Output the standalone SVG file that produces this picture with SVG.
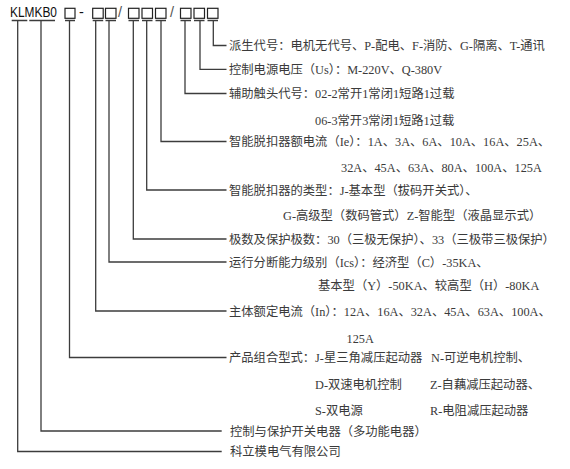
<svg xmlns="http://www.w3.org/2000/svg" width="570" height="469" viewBox="0 0 570 469">
<style>
.t{font-family:"Liberation Serif","Noto Sans CJK SC",serif;font-size:12.3px;fill:#3a3a3a}
.c{fill:none;stroke:#3c3c3c;stroke-width:1.3}
.b{fill:none;stroke:#222;stroke-width:1.2}
.h{font-family:"Liberation Sans",Arial,sans-serif;font-size:14.5px;fill:#111}
</style>
<rect width="570" height="469" fill="#fff"/>
<g id="code">
<text class="h" x="10" y="17.3" textLength="47" lengthAdjust="spacingAndGlyphs">KLMKB0</text>
<rect class="b" x="65" y="8.3" width="10" height="10"/>
<text class="h" x="79" y="17.3">-</text>
<rect class="b" x="92.7" y="8.3" width="10.5" height="10"/>
<rect class="b" x="105.5" y="8.3" width="10.5" height="10"/>
<text class="h" x="118" y="17.3" style="fill:#555">/</text>
<rect class="b" x="128.5" y="8.3" width="10.5" height="10"/>
<rect class="b" x="142" y="8.3" width="10.5" height="10"/>
<rect class="b" x="155.5" y="8.3" width="10.5" height="10"/>
<text class="h" x="170" y="17.3" style="fill:#555">/</text>
<rect class="b" x="180.5" y="8.3" width="10.5" height="10"/>
<rect class="b" x="194" y="8.3" width="10.5" height="10"/>
<rect class="b" x="207.5" y="8.3" width="10.5" height="10"/>
</g>
<g id="connectors">
<path class="c" d="M11.7 20.5H27.3M29.3 20.5H55M65 20.5H75M92.7 20.5H103.2M105.5 20.5H116M128.5 20.5H139M142 20.5H152.5M155.5 20.5H166M180.5 20.5H191M194 20.5H204.5M207.5 20.5H218"/>
<path class="c" d="M213.3 20.5V45.5H226.5"/>
<path class="c" d="M200 20.5V69.3H226.5"/>
<path class="c" d="M185 20.5V93.5H226.5"/>
<path class="c" d="M161 20.5V141.5H226.5"/>
<path class="c" d="M146.7 20.5V190H226.5"/>
<path class="c" d="M133.3 20.5V239H226.5"/>
<path class="c" d="M109 20.5V262H226.5"/>
<path class="c" d="M95.7 20.5V311H226.5"/>
<path class="c" d="M69.5 20.5V357.5H226.5"/>
<path class="c" d="M41 20.5V431H221.7"/>
<path class="c" d="M17.7 20.5V451.5H221.7"/>
</g>
<g id="n1"><text class="t" x="229" y="50">派生代号：电机无代号、P-配电、F-消防、G-隔离、T-通讯</text></g>
<g id="n2"><text class="t" x="229" y="73.8">控制电源电压（Us）：M-220V、Q-380V</text></g>
<g id="n3"><text class="t" x="229" y="98">辅助触头代号：02-2常开1常闭1短路1过载</text>
<text class="t" x="315" y="124.5">06-3常开3常闭1短路1过载</text></g>
<g id="n4"><text class="t" x="229" y="146">智能脱扣器额电流（Ie）：1A、3A、6A、10A、16A、25A、</text>
<text class="t" x="341" y="172">32A、45A、63A、80A、100A、125A</text></g>
<g id="n5"><text class="t" x="229" y="194.5">智能脱扣器的类型：J-基本型（拔码开关式）、</text>
<text class="t" x="283" y="219.5">G-高级型（数码管式）Z-智能型（液晶显示式）</text></g>
<g id="n6"><text class="t" x="229" y="243.5">极数及保护极数：30（三极无保护）、33（三极带三极保护）</text></g>
<g id="n7"><text class="t" x="229" y="266.5">运行分断能力级别（Ics）：经济型（C）-35KA、</text>
<text class="t" x="318" y="289.5">基本型（Y）-50KA、较高型（H）-80KA</text></g>
<g id="n8"><text class="t" x="229" y="315.5">主体额定电流（In）：12A、16A、32A、45A、63A、100A、</text>
<text class="t" x="346.5" y="342.5">125A</text></g>
<g id="n9"><text class="t" x="229" y="362">产品组合型式：J-星三角减压起动器</text>
<text class="t" x="431" y="362">N-可逆电机控制、</text>
<text class="t" x="315" y="388.5">D-双速电机控制</text>
<text class="t" x="430" y="388.5">Z-自藕减压起动器、</text>
<text class="t" x="315" y="414.5">S-双电源</text>
<text class="t" x="430" y="414.5">R-电阻减压起动器</text></g>
<g id="n10"><text class="t" x="230" y="435.5">控制与保护开关电器（多功能电器）</text></g>
<g id="n11"><text class="t" x="230" y="456">科立模电气有限公司</text></g>
</svg>
